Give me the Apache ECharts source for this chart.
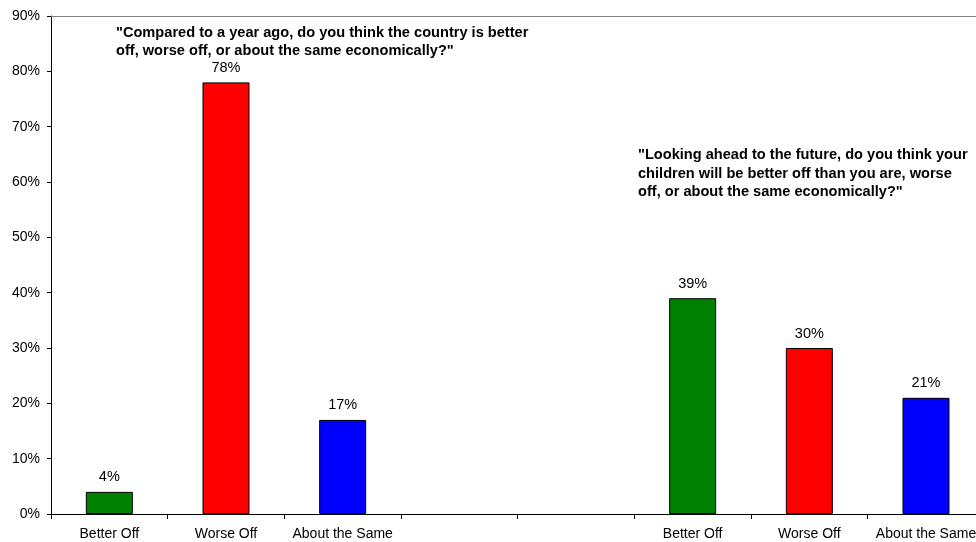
<!DOCTYPE html>
<html>
<head>
<meta charset="utf-8">
<title>Economic outlook survey</title>
<script src="https://cdn.jsdelivr.net/npm/echarts@6/dist/echarts.min.js"></script>
<style>
  html, body { margin: 0; padding: 0; background: #fff; overflow: hidden; }
  /* the plot is slightly wider than the window; its right end is cut off */
  #chart { width: 985px; height: 542px; }
</style>
</head>
<body>
<div id="chart"></div>
<script>
// Two survey questions, each with three answers; two empty slots separate them.
const categories = ['Better Off', 'Worse Off', 'About the Same', '', '', 'Better Off', 'Worse Off', 'About the Same'];
const shares = [4, 78, 17, null, null, 39, 30, 21];
const barColors = ['#008000', '#FF0000', '#0000FF', '#008000', '#008000', '#008000', '#FF0000', '#0000FF'];
const yTicks = { min: 0, max: 90, step: 10 };

const questionOne = '"Compared to a year ago, do you think the country is better\noff, worse off, or about the same economically?"';
const questionTwo = '"Looking ahead to the future, do you think your\nchildren will be better off than you are, worse\noff, or about the same economically?"';

const FONT = 'Liberation Sans, Arial, Helvetica, sans-serif';

const chart = echarts.init(document.getElementById('chart'), null, { renderer: 'canvas' });

chart.setOption({
  animation: false,
  backgroundColor: '#ffffff',
  grid: { left: 51, top: 16, width: 933.33, bottom: 28, containLabel: false },
  xAxis: [
    {
      type: 'category',
      data: categories,
      boundaryGap: true,
      axisLine: { lineStyle: { color: '#000', width: 1 } },
      axisTick: { show: true, length: 5, interval: 0, lineStyle: { color: '#000' } },
      axisLabel: { interval: 0, color: '#000', fontFamily: FONT, fontSize: 14, margin: 13 }
    },
    {
      type: 'category',
      data: categories,
      position: 'top',
      axisLine: { show: true, lineStyle: { color: '#808080', width: 1 } },
      axisTick: { show: false },
      axisLabel: { show: false }
    }
  ],
  yAxis: {
    type: 'value',
    min: yTicks.min,
    max: yTicks.max,
    interval: yTicks.step,
    axisLine: { show: true, lineStyle: { color: '#000', width: 1 } },
    axisTick: { show: true, length: 4, lineStyle: { color: '#000' } },
    splitLine: { show: false },
    axisLabel: { color: '#000', fontFamily: FONT, fontSize: 14, margin: 11, formatter: '{value}%' }
  },
  series: [
    {
      type: 'bar',
      xAxisIndex: 0,
      barWidth: 47,
      data: shares.map((v, i) => ({
        value: v,
        itemStyle: { color: barColors[i], borderColor: '#000', borderWidth: 1 }
      })),
      label: {
        show: true,
        position: 'top',
        distance: 7,
        color: '#000',
        fontFamily: FONT,
        fontSize: 14.5,
        formatter: p => (p.value == null ? '' : p.value + '%')
      }
    }
  ],
  graphic: [
    {
      type: 'text',
      left: 116,
      top: 24,
      style: {
        text: questionOne,
        fill: '#000',
        font: 'bold 14.6px ' + FONT,
        lineHeight: 18
      }
    },
    {
      type: 'text',
      left: 638,
      top: 146,
      style: {
        text: questionTwo,
        fill: '#000',
        font: 'bold 14.6px ' + FONT,
        lineHeight: 18.5
      }
    }
  ]
});
</script>
</body>
</html>
